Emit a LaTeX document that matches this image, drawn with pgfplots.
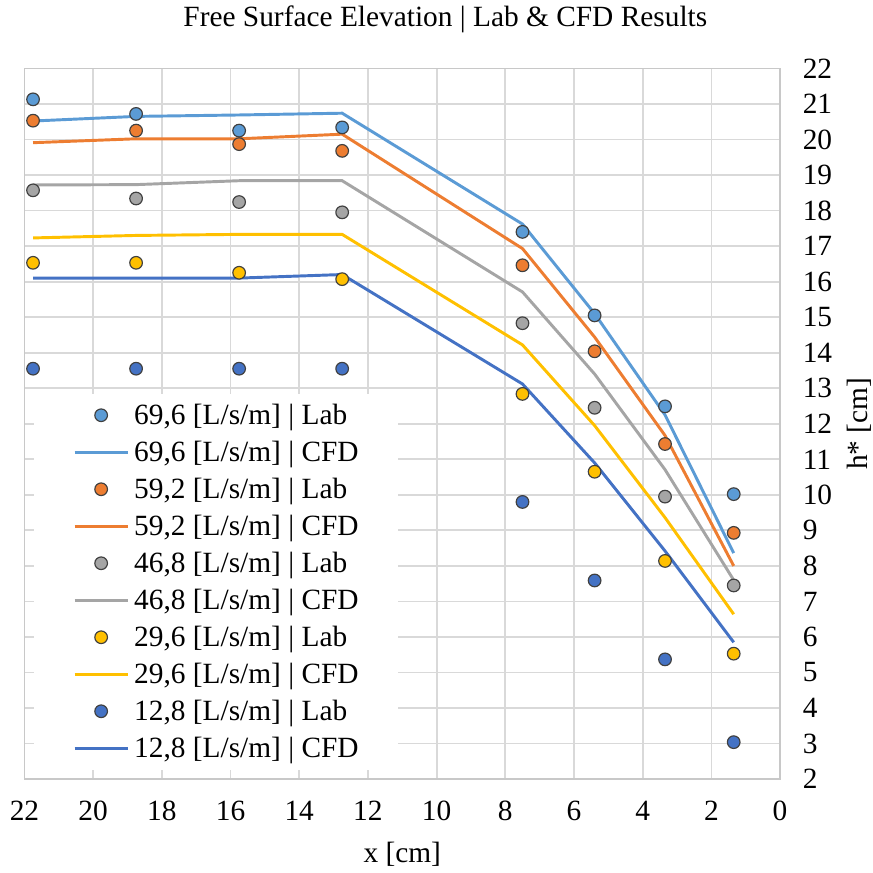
\documentclass[border=0pt]{standalone}
\usepackage{fontspec}
\setmainfont{Liberation Serif}
\usepackage{pgfplots}
\usepackage{pgfplotstable}
\pgfplotsset{compat=1.18}
\definecolor{cA}{HTML}{5B9BD5}
\definecolor{cB}{HTML}{ED7D31}
\definecolor{cC}{HTML}{A5A5A5}
\definecolor{cD}{HTML}{FFC000}
\definecolor{cE}{HTML}{4472C4}
\definecolor{gridc}{HTML}{D9D9D9}
\definecolor{axc}{HTML}{C8C8C8}

\pgfplotstableread{
x     labA   cfdA   labB   cfdB   labC   cfdC   labD   cfdD   labE   cfdE
21.75 21.13  20.52  20.53  19.91  18.57  18.72  16.53  17.23  13.55  16.10
18.75 20.72  20.65  20.25  20.02  18.34  18.73  16.53  17.30  13.55  16.10
15.75 20.25  20.69  19.87  20.02  18.24  18.84  16.25  17.33  13.55  16.10
12.75 20.34  20.74  19.68  20.15  17.95  18.84  16.07  17.33  13.55  16.20
7.50  17.40  17.62  16.46  16.93  14.83  15.71  12.84  14.22   9.80  13.12
5.40  15.05  15.10  14.04  14.44  12.45  13.40  10.65  11.95   7.59  10.90
3.35  12.49  12.25  11.43  11.67   9.95  10.71   8.14   9.36   5.37   8.42
1.35  10.02   8.36   8.93   8.00   7.45   7.60   5.53   6.64   3.04   5.85
}\datatable

\pgfplotsset{
  lab/.style={color=#1, only marks, mark=*, mark size=2.15pt,
    mark options={draw=black!75, fill=#1, line width=0.4pt}},
  cfd/.style={color=#1, line width=1pt, mark=none},
}

\begin{document}
\begin{tikzpicture}
\begin{axis}[
  scale only axis,
  width=257.3pt, height=242pt,
  x dir=reverse,
  xmin=0, xmax=22, ymin=2, ymax=22,
  xtick={0,2,...,22}, ytick={2,3,...,22},
  grid=major,
  major grid style={draw=gridc, line width=0.6pt},
  axis line style={draw=axc, line width=0.6pt},
  major tick length=0pt,
  yticklabel pos=right,
  /pgf/number format/assume math mode=true,
  tick label style={font=\normalsize},
  xticklabel style={yshift=-4pt},
  yticklabel style={anchor=west, xshift=4.2pt},
  title={Free Surface Elevation | Lab \& CFD Results},
  every axis title/.style={at={(axis description cs:0.557,1)}, anchor=center, yshift=16.7pt, inner sep=2pt},
  xlabel={x [cm]},
  ylabel={h* [cm]},
  every axis x label/.style={at={(axis description cs:0.5,0)}, anchor=center, yshift=-25.6pt, inner sep=2pt},
  every axis y label/.style={at={(axis description cs:1,0.5)}, xshift=27pt, rotate=90, anchor=center, inner sep=0.5pt},
  legend cell align=left,
  legend image code/.code={\draw[mark repeat=2,mark phase=2,#1] plot coordinates {(0pt,0pt) (9.05pt,0pt) (18.1pt,0pt)};},
  legend style={at={(axis description cs:0.0119,0.543)}, anchor=north west,
    fill=white, draw=none, inner xsep=13.3pt, inner ysep=1pt, font=\normalsize,
    row sep=0pt,
    nodes={inner sep=0pt, text height=9.6pt, text depth=3pt, anchor=west},
    /tikz/every odd column/.append style={column sep=1.7pt}},
]
\addlegendimage{lab=cA}\addlegendentry{69,6 [L/s/m] | Lab}
\addlegendimage{cfd=cA}\addlegendentry{69,6 [L/s/m] | CFD}
\addlegendimage{lab=cB}\addlegendentry{59,2 [L/s/m] | Lab}
\addlegendimage{cfd=cB}\addlegendentry{59,2 [L/s/m] | CFD}
\addlegendimage{lab=cC}\addlegendentry{46,8 [L/s/m] | Lab}
\addlegendimage{cfd=cC}\addlegendentry{46,8 [L/s/m] | CFD}
\addlegendimage{lab=cD}\addlegendentry{29,6 [L/s/m] | Lab}
\addlegendimage{cfd=cD}\addlegendentry{29,6 [L/s/m] | CFD}
\addlegendimage{lab=cE}\addlegendentry{12,8 [L/s/m] | Lab}
\addlegendimage{cfd=cE}\addlegendentry{12,8 [L/s/m] | CFD}

\addplot[cfd=cA, forget plot] table[x=x, y=cfdA] {\datatable};
\addplot[cfd=cB, forget plot] table[x=x, y=cfdB] {\datatable};
\addplot[cfd=cC, forget plot] table[x=x, y=cfdC] {\datatable};
\addplot[cfd=cD, forget plot] table[x=x, y=cfdD] {\datatable};
\addplot[cfd=cE, forget plot] table[x=x, y=cfdE] {\datatable};
\addplot[lab=cA, forget plot] table[x=x, y=labA] {\datatable};
\addplot[lab=cB, forget plot] table[x=x, y=labB] {\datatable};
\addplot[lab=cC, forget plot] table[x=x, y=labC] {\datatable};
\addplot[lab=cD, forget plot] table[x=x, y=labD] {\datatable};
\addplot[lab=cE, forget plot] table[x=x, y=labE] {\datatable};
\end{axis}
\end{tikzpicture}
\end{document}
